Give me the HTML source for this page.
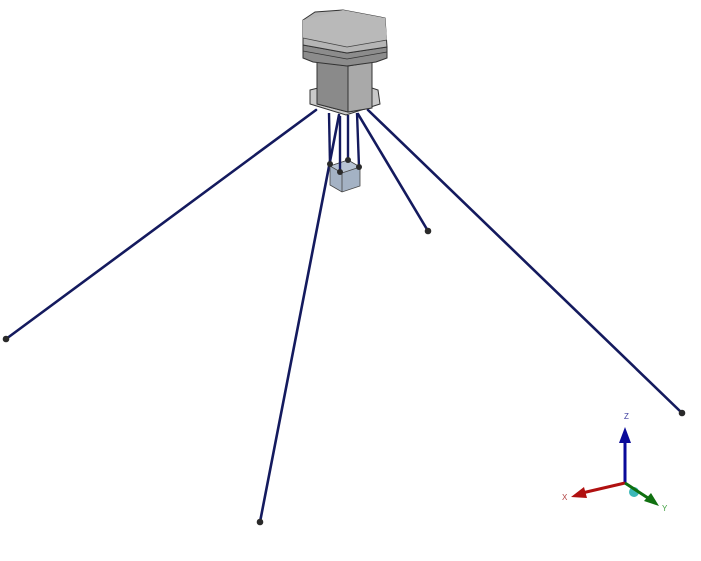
<!DOCTYPE html>
<html><head><meta charset="utf-8"><style>html,body{margin:0;padding:0;background:#fff}svg{display:block}</style></head>
<body>
<svg width="701" height="561" viewBox="0 0 701 561" xmlns="http://www.w3.org/2000/svg">
<g stroke="#141a5e" stroke-width="2.6" stroke-linecap="round">
<line x1="316" y1="110" x2="6" y2="339"/>
<line x1="339" y1="115" x2="260" y2="522"/>
<line x1="358" y1="114" x2="428" y2="231"/>
<line x1="368" y1="110" x2="682" y2="413"/>
</g>
<!-- cube -->
<polygon points="330,166 348,160 360,167 360,186 342,192 330,185" fill="#a4b2c4" stroke="#444" stroke-width="0.8"/>
<polygon points="330,166 348,160 360,167 342,173" fill="#b8c4d4" stroke="#444" stroke-width="0.8"/>
<line x1="342" y1="173" x2="342" y2="192" stroke="#444" stroke-width="0.8"/>
<g stroke="#141a5e" stroke-width="2.4">
<line x1="329" y1="113" x2="330" y2="164"/>
<line x1="340" y1="116" x2="340" y2="172"/>
<line x1="348" y1="115" x2="348" y2="160"/>
<line x1="357" y1="113" x2="359" y2="167"/>
</g>
<!-- base plate -->
<polygon points="310,90 318,88 372,88 378,90 380,104 346,115 310,104" fill="#c9c9c9" stroke="#333" stroke-width="1"/>
<!-- column -->
<polygon points="317,62 372,62 372,108 348,112 317,104" fill="#9a9a9a" stroke="#333" stroke-width="1"/>
<polygon points="317,62 348,66 348,112 317,104" fill="#8a8a8a" stroke="#333" stroke-width="1"/>
<polygon points="348,66 372,62 372,108 348,112" fill="#a9a9a9" stroke="#333" stroke-width="1"/>
<!-- cap -->
<polygon points="303,45 347,53 387,47 387,58 376,62 347,66 313,62 303,58" fill="#8c8c8c" stroke="#333" stroke-width="1"/>
<line x1="303" y1="51" x2="347" y2="59" stroke="#333" stroke-width="0.8"/>
<line x1="347" y1="59" x2="387" y2="52" stroke="#333" stroke-width="0.8"/>
<polygon points="303,20 315,12 343,10 385,18 387,47 347,53 303,45" fill="#b5b5b5" stroke="#333" stroke-width="1"/>
<polygon points="303,20 343,10 385,18 387,40 347,47 303,38" fill="#b9b9b9" stroke="none"/>
<line x1="303" y1="38" x2="347" y2="47" stroke="#444" stroke-width="0.8"/>
<line x1="347" y1="47" x2="387" y2="40" stroke="#444" stroke-width="0.8"/>
<!-- nodes -->
<g fill="#2a2a2a">
<circle cx="6" cy="339" r="3.3"/><circle cx="260" cy="522" r="3.3"/>
<circle cx="428" cy="231" r="3.3"/><circle cx="682" cy="413" r="3.3"/>
<circle cx="330" cy="164" r="3"/><circle cx="340" cy="172" r="3"/>
<circle cx="348" cy="160" r="3"/><circle cx="359" cy="167" r="3"/>
</g>
<!-- triad -->
<line x1="625" y1="483" x2="625" y2="440" stroke="#0a0a9a" stroke-width="3"/>
<polygon points="619,443 631,443 625,427" fill="#0a0a9a"/>
<line x1="625" y1="483" x2="582" y2="493" stroke="#b01010" stroke-width="3"/>
<polygon points="584,487 587,498 571,497" fill="#b01010"/>
<circle cx="634" cy="492" r="5" fill="#3cb8b8"/>
<line x1="625" y1="483" x2="648" y2="498" stroke="#107010" stroke-width="3"/>
<polygon points="644,501 651,493 659,506" fill="#107010"/>
<g font-family="Liberation Sans, sans-serif" font-size="8">
<text x="624" y="419" fill="#4040a0">Z</text>
<text x="562" y="500" fill="#b04040">X</text>
<text x="662" y="511" fill="#40a040">Y</text>
</g>
</svg>
</body></html>
